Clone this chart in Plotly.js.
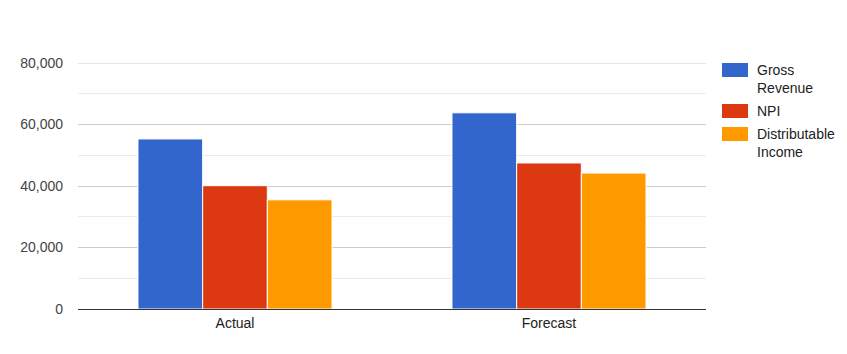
<!DOCTYPE html>
<html>
<head>
<meta charset="utf-8">
<script src="https://cdn.plot.ly/plotly-3.0.1.min.js"></script>
<style>html,body{margin:0;padding:0;background:#fff;}#chart{width:847px;height:354px;}</style>
</head>
<body>
<div id="chart"></div>
<script>
const categories = ["Actual", "Forecast"];
const seriesNames = ["Gross<br>Revenue", "NPI", "Distributable<br>Income"];
const grossRevenue = [55300, 63800];
const npi = [40100, 47500];
const distributableIncome = [35500, 44200];
const yTickVals = [0, 20000, 40000, 60000, 80000];
const yTickText = ["0", "20,000", "40,000", "60,000", "80,000"];

const colors = ["#3366cc", "#dc3912", "#ff9900"];
const seriesValues = [grossRevenue, npi, distributableIncome];

const traces = seriesValues.map((vals, i) => ({
  type: "bar",
  x: categories,
  y: vals,
  name: seriesNames[i],
  marker: {color: colors[i], line: {color: "#ffffff", width: 1}},
  hoverinfo: "none",
  showlegend: false
}));

// custom legend (Google-Charts-like wide swatches)
const legendY = [[1.0, 0.943], [0.8333, 0.7764], [0.7398, 0.6829]];
const shapes = legendY.map((yy, i) => ({
  type: "rect", xref: "paper", yref: "paper",
  x0: 1.0255, x1: 1.0669, y0: yy[1], y1: yy[0],
  fillcolor: colors[i], line: {width: 0}
}));
// top gridline at the range edge
shapes.push({
  type: "line", xref: "paper", yref: "y", x0: 0, x1: 1,
  y0: yTickVals[yTickVals.length - 1], y1: yTickVals[yTickVals.length - 1],
  line: {color: "#cccccc", width: 1}, layer: "below"
});
const annotations = legendY.map((yy, i) => ({
  xref: "paper", yref: "paper", x: 1.078, y: yy[0] + 0.012,
  xanchor: "left", yanchor: "top", align: "left", showarrow: false,
  text: seriesNames[i],
  font: {family: "Liberation Sans, Arial, sans-serif", size: 14, color: "#222222"}
}));

const layout = {
  width: 847, height: 354,
  margin: {l: 78, r: 141, t: 63, b: 45, pad: 0},
  paper_bgcolor: "#ffffff", plot_bgcolor: "#ffffff",
  font: {family: "Liberation Sans, Arial, sans-serif", size: 14, color: "#444444"},
  barmode: "group", bargap: 0.382, bargroupgap: 0,
  xaxis: {
    showgrid: false, showline: false, zeroline: false, ticks: "",
    tickfont: {size: 14, color: "#222222"}, ticklabelstandoff: 4
  },
  yaxis: {
    range: [0, 80000], tickvals: yTickVals, ticktext: yTickText,
    showgrid: true, gridcolor: "#cccccc", gridwidth: 1,
    zeroline: true, zerolinecolor: "#333333", zerolinewidth: 1,
    showline: false, ticks: "", ticklabelstandoff: 14,
    tickfont: {size: 14, color: "#444444"},
    minor: {dtick: 10000, showgrid: true, gridcolor: "#ebebeb", gridwidth: 1, ticks: ""}
  },
  shapes: shapes,
  annotations: annotations,
  showlegend: false
};

Plotly.newPlot("chart", traces, layout, {displayModeBar: false, staticPlot: true});
</script>
</body>
</html>
